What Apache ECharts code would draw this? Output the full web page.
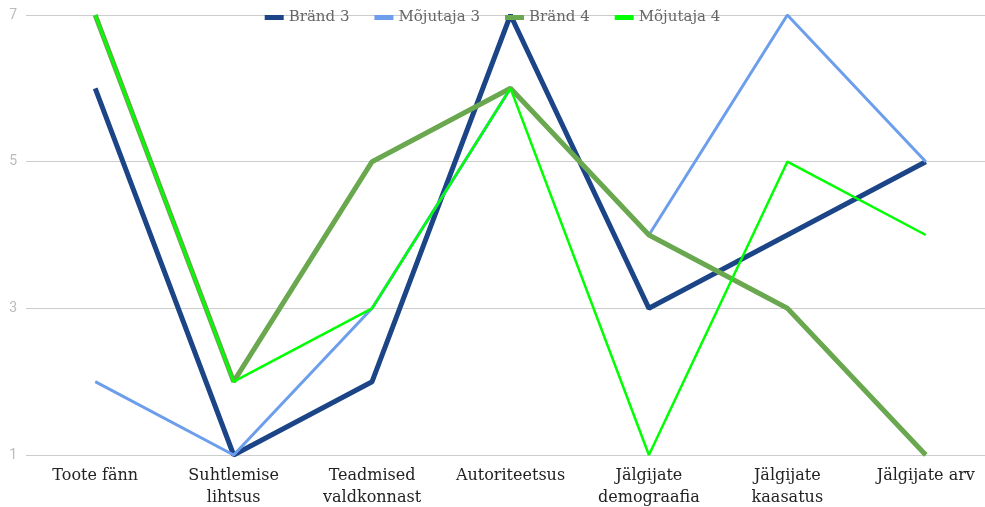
<!DOCTYPE html>
<html>
<head>
<meta charset="utf-8">
<script src="https://cdn.jsdelivr.net/npm/echarts@6/dist/echarts.min.js"></script>
<style>
  html, body { margin: 0; padding: 0; background: #fff; }
  #chart { width: 985px; height: 507px; }
</style>
</head>
<body>
<div id="chart"></div>
<script>
const categories = ['Toote fänn', 'Suhtlemise\nlihtsus', 'Teadmised\nvaldkonnast', 'Autoriteetsus',
  'Jälgijate\ndemograafia', 'Jälgijate\nkaasatus', 'Jälgijate arv']
const yTicks = [1, 3, 5, 7]

const brand3 = [6, 1, 2, 7, 3, 4, 5]
const mojutaja3 = [2, 1, 3, 6, 4, 7, 5]
const brand4 = [7, 2, 5, 6, 4, 3, 1]
const mojutaja4 = [7, 2, 3, 6, 1, 5, 4]

const chart = echarts.init(document.getElementById('chart'), null, { renderer: 'canvas' })

const mkLine = (name, data, color, width) => ({
  name: name,
  type: 'line',
  data: data,
  showSymbol: false,
  symbol: 'none',
  lineStyle: { color: color, width: width },
  itemStyle: { color: color },
  animation: false
})

chart.setOption({
  backgroundColor: '#ffffff',
  legend: {
    top: 5,
    left: 'center',
    itemWidth: 19,
    itemHeight: 5,
    itemGap: 25,
    icon: 'rect',
    textStyle: { color: '#666666', fontFamily: 'DejaVu Serif', fontSize: 15 },
    data: ['Bränd 3', 'Mõjutaja 3', 'Bränd 4', 'Mõjutaja 4']
  },
  grid: { left: 26, top: 15, width: 969, height: 440, outerBoundsMode: 'none', containLabel: false },
  xAxis: {
    type: 'category',
    data: categories,
    boundaryGap: true,
    axisLine: { show: false },
    axisTick: { show: false },
    axisLabel: {
      color: '#222222',
      fontFamily: 'DejaVu Serif',
      fontSize: 16,
      lineHeight: 22,
      margin: 10,
      interval: 0
    }
  },
  yAxis: {
    type: 'value',
    min: yTicks[0],
    max: yTicks[yTicks.length - 1],
    interval: 2,
    axisLine: { show: false },
    axisTick: { show: false },
    axisLabel: { color: '#bbbbbb', fontFamily: 'Roboto', fontSize: 14, margin: 9 },
    splitLine: { lineStyle: { color: '#cccccc', width: 1 } }
  },
  series: [
    mkLine('Bränd 3', brand3, '#1c4587', 5),
    mkLine('Mõjutaja 3', mojutaja3, '#6d9eeb', 3),
    mkLine('Bränd 4', brand4, '#6aa84f', 5),
    mkLine('Mõjutaja 4', mojutaja4, '#00ff00', 2.5)
  ]
})
</script>
</body>
</html>
